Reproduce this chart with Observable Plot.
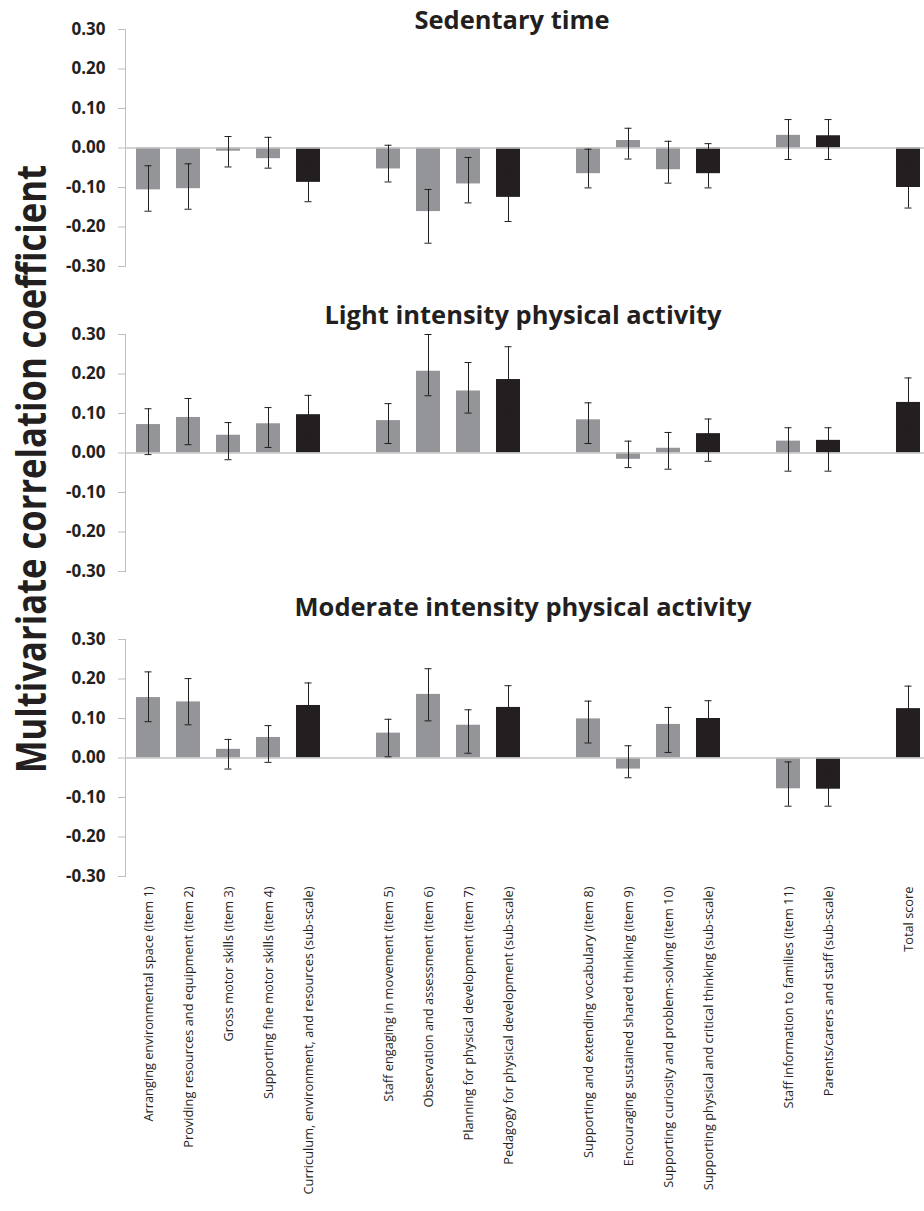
<!DOCTYPE html>
<html>
<head>
<meta charset="utf-8">
<script src="https://cdn.jsdelivr.net/npm/d3@7"></script>
<script src="https://cdn.jsdelivr.net/npm/@observablehq/plot@0.6"></script>
<style>
  html, body { margin: 0; padding: 0; background: #fff; overflow: hidden; }
  #chart svg { display: block; }
</style>
</head>
<body>
<div id="chart"></div>
<script>
// ---- data ----
const categories = [
  "Arranging environmental space (item 1)",
  "Providing resources and equipment (item 2)",
  "Gross motor skills (item 3)",
  "Supporting fine motor skills (item 4)",
  "Curriculum, environment, and resources (sub-scale)",
  "Staff engaging in movement (item 5)",
  "Observation and assessment (item 6)",
  "Planning for physical development (item 7)",
  "Pedagogy for physical development (sub-scale)",
  "Supporting and extending vocabulary (item 8)",
  "Encouraging sustained shared thinking (item 9)",
  "Supporting curiosity and problem-solving (item 10)",
  "Supporting physical and critical thinking (sub-scale)",
  "Staff information to families (item 11)",
  "Parents/carers and staff (sub-scale)",
  "Total score"
];
const groups = [1,1,1,1,1, 2,2,2,2, 3,3,3,3, 4,4, 5];
const kinds = ["item","item","item","item","sub", "item","item","item","sub", "item","item","item","sub", "item","sub", "sub"];

const panels = ["Sedentary time", "Light intensity physical activity", "Moderate intensity physical activity"];

const sedentary     = [-0.106, -0.103, -0.008, -0.027, -0.087, -0.053, -0.161, -0.091, -0.125, -0.065,  0.019, -0.055, -0.065,  0.032,  0.031, -0.100];
const sedentaryLow  = [-0.160, -0.155, -0.048, -0.051, -0.136, -0.086, -0.241, -0.139, -0.186, -0.101, -0.028, -0.089, -0.101, -0.029, -0.029, -0.152];
const sedentaryHigh = [-0.045, -0.040,  0.029,  0.027, -0.038,  0.007, -0.105, -0.024, -0.064, -0.003,  0.050,  0.017,  0.011,  0.072,  0.072, -0.048];

const light     = [0.072, 0.090, 0.045, 0.074, 0.097, 0.082, 0.207, 0.157, 0.186, 0.084, -0.016, 0.012, 0.049, 0.030, 0.032, 0.128];
const lightLow  = [-0.004, 0.021, -0.017, 0.014, 0.048, 0.024, 0.145, 0.101, 0.103, 0.024, -0.037, -0.041, -0.021, -0.046, -0.046, 0.066];
const lightHigh = [0.112, 0.138, 0.077, 0.115, 0.146, 0.125, 0.300, 0.229, 0.269, 0.127, 0.030, 0.052, 0.086, 0.064, 0.064, 0.190];

const moderate     = [0.153, 0.142, 0.022, 0.052, 0.133, 0.063, 0.161, 0.083, 0.128, 0.099, -0.028, 0.085, 0.100, -0.078, -0.079, 0.125];
const moderateLow  = [0.092, 0.084, -0.028, -0.011, 0.076, 0.003, 0.094, 0.012, 0.073, 0.038, -0.050, 0.014, 0.055, -0.122, -0.122, 0.068];
const moderateHigh = [0.218, 0.201, 0.047, 0.082, 0.190, 0.098, 0.226, 0.122, 0.183, 0.144, 0.031, 0.128, 0.145, -0.010, -0.036, 0.182];

const yTicks = [-0.3, -0.2, -0.1, 0, 0.1, 0.2, 0.3];
const yLabel = "Multivariate correlation coefficient";

// ---- build table ----
const series = [
  [sedentary, sedentaryLow, sedentaryHigh],
  [light, lightLow, lightHigh],
  [moderate, moderateLow, moderateHigh]
];
const rows = [];
panels.forEach((p, pi) => {
  categories.forEach((c, i) => {
    rows.push({panel: p, cat: c, kind: kinds[i], value: series[pi][0][i], lo: series[pi][1][i], hi: series[pi][2][i]});
  });
});

// x domain with blank spacer slots between groups
const xDomain = [];
categories.forEach((c, i) => {
  if (i > 0 && groups[i] !== groups[i - 1]) xDomain.push("gap" + groups[i]);
  xDomain.push(c);
});

const ink = "#231f20";
const font = "'Open Sans', sans-serif";

const chart = Plot.plot({
  width: 924,
  height: 1211,
  marginLeft: 125,
  marginRight: 0,
  marginTop: 29,
  marginBottom: 335,
  style: {fontFamily: font, background: "#fff", color: ink},
  x: {domain: xDomain, range: [125, 931], paddingInner: 0.4, paddingOuter: 0.2, axis: null},
  y: {domain: [-0.3, 0.3], axis: null},
  fy: {domain: panels, paddingInner: 0.223, paddingOuter: 0, axis: null},
  color: {domain: ["item", "sub"], range: ["#939598", "#231f20"]},
  marks: [
    Plot.frame({anchor: "left", stroke: "#bfbfbf"}),
    Plot.axisY({ticks: yTicks, tickSize: 7, stroke: "#bfbfbf", tickFormat: () => "", label: null}),
    Plot.axisY({ticks: yTicks, tickSize: 0, tickPadding: 20, tickFormat: d => d.toFixed(2),
      fontSize: 17, fontWeight: "bold", color: ink, label: null}),
    Plot.barY(rows, {fy: "panel", x: "cat", y: "value", fill: "kind"}),
    Plot.ruleY([0], {stroke: "#c4c4c4", strokeWidth: 1.5}),
    Plot.ruleX(rows, {fy: "panel", x: "cat", y1: "lo", y2: "hi", stroke: ink, strokeWidth: 1}),
    Plot.tickY(rows, {fy: "panel", x: "cat", y: "lo", stroke: ink, strokeWidth: 1, insetLeft: 8.5, insetRight: 8.5}),
    Plot.tickY(rows, {fy: "panel", x: "cat", y: "hi", stroke: ink, strokeWidth: 1, insetLeft: 8.5, insetRight: 8.5}),
    Plot.axisX({ticks: categories, tickSize: 0, tickPadding: 10, tickRotate: -90, fontSize: 12.8,
      color: ink, facetAnchor: "bottom", lineWidth: 100, label: null}),
    Plot.text([panels[0]], {fy: d => d, text: d => d, frameAnchor: "top", lineAnchor: "bottom",
      dy: -1, dx: -13, fontSize: 25.5, fontWeight: "bold", fill: ink}),
    Plot.text([panels[1]], {fy: d => d, text: d => d, frameAnchor: "top", lineAnchor: "bottom",
      dy: -11, dx: -2, fontSize: 25.5, fontWeight: "bold", fill: ink}),
    Plot.text([panels[2]], {fy: d => d, text: d => d, frameAnchor: "top", lineAnchor: "bottom",
      dy: -24, dx: -2, fontSize: 25.5, fontWeight: "bold", fill: ink})
  ]
});

d3.select(chart).append("text")
  .attr("transform", "translate(46,469) rotate(-90)")
  .attr("text-anchor", "middle")
  .attr("font-family", font)
  .attr("font-weight", "bold")
  .attr("font-size", 42)
  .attr("fill", ink)
  .attr("textLength", 608)
  .attr("lengthAdjust", "spacingAndGlyphs")
  .text(yLabel);

document.getElementById("chart").appendChild(chart);
</script>
</body>
</html>
